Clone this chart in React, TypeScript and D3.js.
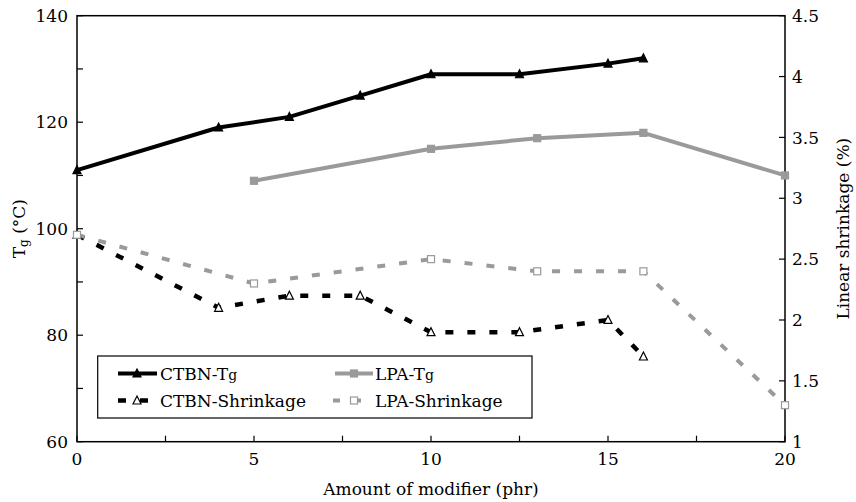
import React from "react";
import * as d3 from "d3";

const ctbnTgX = [0, 4, 6, 8, 10, 12.5, 15, 16];
const ctbnTgY = [111, 119, 121, 125, 129, 129, 131, 132];
const lpaTgX = [5, 10, 13, 16, 20];
const lpaTgY = [109, 115, 117, 118, 110];
const ctbnShX = [0, 4, 6, 8, 10, 12.5, 15, 16];
const ctbnShY = [2.7, 2.1, 2.2, 2.2, 1.9, 1.9, 2.0, 1.7];
const lpaShX = [0, 5, 10, 13, 16, 20];
const lpaShY = [2.7, 2.3, 2.5, 2.4, 2.4, 1.3];

const xTicks = [0, 5, 10, 15, 20];
const xMinor = [2.5, 7.5, 12.5, 17.5];
const yLTicks = [60, 80, 100, 120, 140];
const yLMinor = [70, 90, 110, 130];
const yRTicks = [1, 1.5, 2, 2.5, 3, 3.5, 4, 4.5];

const W = 856, H = 502;
const L = 77, R = 785, T = 15.7, B = 441.7;
const GRAY = "#9a9a9a";
const FONT = "'DejaVu Serif', serif";
const FS = 17;

const x = d3.scaleLinear().domain([0, 20]).range([L, R]);
const yL = d3.scaleLinear().domain([60, 140]).range([B, T]);
const yR = d3.scaleLinear().domain([1, 4.5]).range([B, T]);

const lineGen = d3.line<[number, number]>().x((d) => d[0]).y((d) => d[1]);

function pts(xs: number[], ys: number[], ys2: d3.ScaleLinear<number, number>): [number, number][] {
  return xs.map((v, i) => [x(v), ys2(ys[i])]);
}

function Tri({ cx, cy, fill, stroke, s = 8 }: any) {
  const h = s * 0.87;
  const p = `M${cx},${cy - h / 2 - 1}L${cx + s / 2},${cy + h / 2}L${cx - s / 2},${cy + h / 2}Z`;
  return <path d={p} fill={fill} stroke={stroke} strokeWidth={1.2} />;
}
function Sq({ cx, cy, fill, stroke, s = 7 }: any) {
  return <rect x={cx - s / 2} y={cy - s / 2} width={s} height={s} fill={fill} stroke={stroke} strokeWidth={1.2} />;
}

export default function App() {
  const cTg = pts(ctbnTgX, ctbnTgY, yL);
  const lTg = pts(lpaTgX, lpaTgY, yL);
  const cSh = pts(ctbnShX, ctbnShY, yR);
  const lSh = pts(lpaShX, lpaShY, yR);

  const lgX = 97.7, lgY = 356, lgW = 434.3, lgH = 62;
  const r1 = 373.5, r2 = 400.5;

  return (
    <svg width={W} height={H} style={{ position: "absolute", left: 0, top: 0, background: "#fff" }} fontFamily={FONT}>
      {/* frame */}
      <rect x={L} y={T} width={R - L} height={B - T} fill="none" stroke="#000" strokeWidth={1.5} />
      {/* x ticks */}
      {xTicks.concat(xMinor).map((t) => (
        <line key={"xt" + t} x1={x(t)} x2={x(t)} y1={B} y2={B - 6} stroke="#000" strokeWidth={1.2} />
      ))}
      {xTicks.map((t) => (
        <text key={"xl" + t} x={x(t)} y={465} textAnchor="middle" fontSize={FS}>{t}</text>
      ))}
      {/* left ticks */}
      {yLTicks.concat(yLMinor).map((t) => (
        <line key={"lt" + t} x1={L} x2={L + 6} y1={yL(t)} y2={yL(t)} stroke="#000" strokeWidth={1.2} />
      ))}
      {yLTicks.map((t) => (
        <text key={"ll" + t} x={68} y={yL(t)} dy="0.36em" textAnchor="end" fontSize={FS}>{t}</text>
      ))}
      {/* right ticks */}
      {yRTicks.map((t) => (
        <line key={"rt" + t} x1={R} x2={R - 6} y1={yR(t)} y2={yR(t)} stroke="#000" strokeWidth={1.2} />
      ))}
      {yRTicks.map((t) => (
        <text key={"rl" + t} x={792} y={yR(t)} dy="0.36em" textAnchor="start" fontSize={FS}>{t}</text>
      ))}
      {/* axis titles */}
      <text x={(L + R) / 2} y={495} textAnchor="middle" fontSize={FS}>Amount of modifier (phr)</text>
      <text transform={`translate(25,${(T + B) / 2}) rotate(-90)`} textAnchor="middle" fontSize={FS}>
        T<tspan fontSize={12} dy="3">g</tspan><tspan dy="-3"> (°C)</tspan>
      </text>
      <text transform={`translate(849,${(T + B) / 2}) rotate(-90)`} textAnchor="middle" fontSize={FS}>Linear shrinkage (%)</text>

      {/* series lines */}
      <path d={lineGen(cTg) || ""} fill="none" stroke="#000" strokeWidth={4} strokeLinejoin="round" />
      <path d={lineGen(lTg) || ""} fill="none" stroke={GRAY} strokeWidth={4} strokeLinejoin="round" />
      <path d={lineGen(cSh) || ""} fill="none" stroke="#000" strokeWidth={4.5} strokeDasharray="8,14" />
      <path d={lineGen(lSh) || ""} fill="none" stroke={GRAY} strokeWidth={4} strokeDasharray="8,14" />
      {cTg.map((p, i) => <Tri key={"a" + i} cx={p[0]} cy={p[1]} fill="#000" stroke="#000" />)}
      {lTg.map((p, i) => <Sq key={"b" + i} cx={p[0]} cy={p[1]} fill={GRAY} stroke={GRAY} />)}
      {cSh.map((p, i) => <Tri key={"c" + i} cx={p[0]} cy={p[1]} fill="#fff" stroke="#000" />)}
      {lSh.map((p, i) => <Sq key={"d" + i} cx={p[0]} cy={p[1]} fill="#fff" stroke={GRAY} />)}

      {/* legend */}
      <rect x={lgX} y={lgY} width={lgW} height={lgH} fill="#fff" stroke="#000" strokeWidth={1.2} />
      <line x1={118} x2={157} y1={r1} y2={r1} stroke="#000" strokeWidth={4} />
      <Tri cx={137} cy={r1} fill="#000" stroke="#000" />
      <text x={160} y={r1} dy="0.36em" fontSize={FS}>CTBN-T<tspan fontSize={14}>g</tspan></text>
      <line x1={335} x2={373} y1={r1} y2={r1} stroke={GRAY} strokeWidth={4} />
      <Sq cx={354} cy={r1} fill={GRAY} stroke={GRAY} />
      <text x={375} y={r1} dy="0.36em" fontSize={FS}>LPA-T<tspan fontSize={14}>g</tspan></text>
      <line x1={118} x2={148} y1={r2} y2={r2} stroke="#000" strokeWidth={4.5} strokeDasharray="8,14" />
      <Tri cx={137} cy={r2} fill="#fff" stroke="#000" />
      <text x={160} y={r2} dy="0.36em" fontSize={FS}>CTBN-Shrinkage</text>
      <line x1={333} x2={364} y1={r2} y2={r2} stroke={GRAY} strokeWidth={4} strokeDasharray="7,14" />
      <Sq cx={354} cy={r2} fill="#fff" stroke={GRAY} />
      <text x={375} y={r2} dy="0.36em" fontSize={FS}>LPA-Shrinkage</text>
    </svg>
  );
}
